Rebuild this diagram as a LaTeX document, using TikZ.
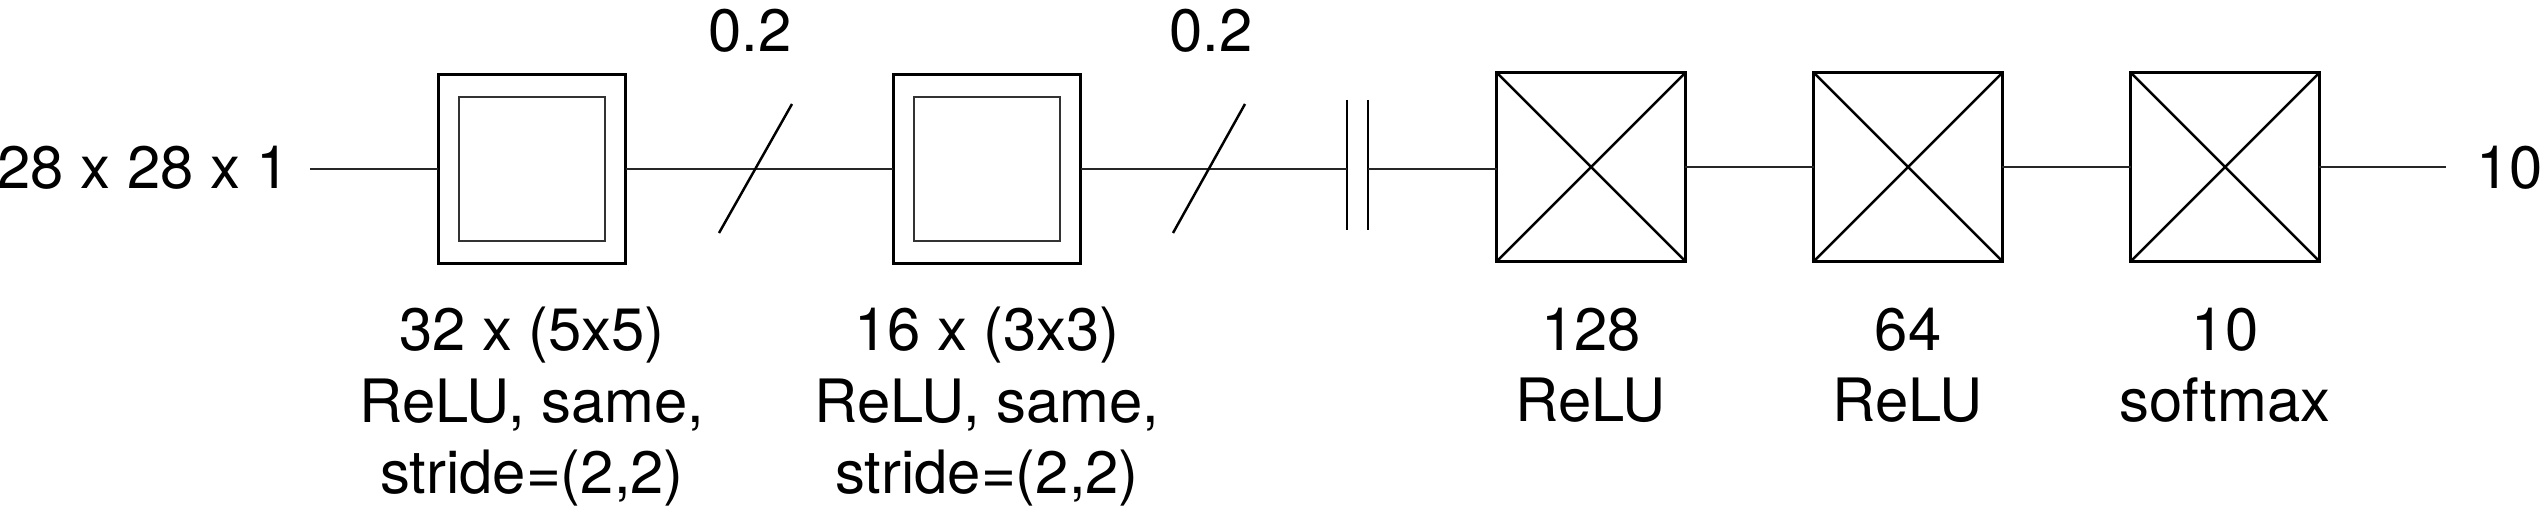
\documentclass[tikz,border=0pt]{standalone}
\usepackage{fontspec}
\setmainfont{TeX Gyre Heros}
\begin{document}
\begin{tikzpicture}[x=0.01cm,y=-0.01cm,
  txt/.style={font=\fontsize{17}{20.4}\selectfont, inner sep=0pt},
  outerbox/.style={draw, line width=0.85pt, minimum width=1.87cm, minimum height=1.88cm, inner sep=0pt, outer sep=0pt},
  innerbox/.style={draw=black!80, line width=0.8pt, minimum width=1.46cm, minimum height=1.44cm, inner sep=0pt, outer sep=0pt},
  densebox/.style={draw, line width=0.85pt, minimum width=1.88cm, minimum height=1.88cm, inner sep=0pt, outer sep=0pt},
  conn/.style={line width=0.7pt, draw=black!85},
  thin/.style={line width=0.7pt}]
\useasboundingbox (0,0) rectangle (2542,522);
% input / output text
\node[txt, anchor=base west] (in) at (-3,189) {28 x 28 x 1};
\node[txt, anchor=base west] (out) at (2476,189) {10};
\coordinate (inend) at (310,169);
\coordinate (outend) at (2446,167);
% conv boxes
\node[outerbox] (c1) at (532,169) {};
\node[innerbox] (c1i) at (532,169) {};
\node[outerbox] (c2) at (987,169) {};
\node[innerbox] (c2i) at (987,169) {};
% dense boxes
\node[densebox] (d1) at (1591,167) {};
\node[densebox] (d2) at (1908,167) {};
\node[densebox] (d3) at (2225,167) {};
\foreach \n in {d1,d2,d3}{
  \draw[thin] (\n.north west) -- (\n.south east);
  \draw[thin] (\n.south west) -- (\n.north east);
}
% flatten bars
\coordinate (bar1) at (1347,169);
\coordinate (bar2) at (1368,169);
\draw[thin] (1347,100) -- (1347,230);
\draw[thin] (1368,100) -- (1368,230);
% connectors
\draw[conn] (inend) -- (c1.west);
\draw[conn] (c1.east) -- (c2.west);
\draw[conn] (c2.east) -- (bar1);
\draw[conn] (bar2) -- (bar2 -| d1.west);
\draw[conn] (d1.east) -- (d2.west);
\draw[conn] (d2.east) -- (d3.west);
\draw[conn] (d3.east) -- (outend);
% dropout slashes
\draw[thin] (719,233) -- (792,104);
\draw[thin] (1173,233) -- (1245,104);
\node[txt, anchor=base] (p1) at (750,52) {0.2};
\node[txt, anchor=base] (p2) at (1211,52) {0.2};
% labels
\node[txt, anchor=north, align=center] (l1) at (532,306) {32 x (5x5)\\ReLU, same,\\stride=(2,2)};
\node[txt, anchor=north, align=center] (l2) at (987,306) {16 x (3x3)\\ReLU, same,\\stride=(2,2)};
\node[txt, anchor=north, align=center] (l3) at (1591,307) {128\\ReLU};
\node[txt, anchor=north, align=center] (l4) at (1908,307) {64\\ReLU};
\node[txt, anchor=north, align=center] (l5) at (2225,307) {10\\softmax};
\end{tikzpicture}
\end{document}
